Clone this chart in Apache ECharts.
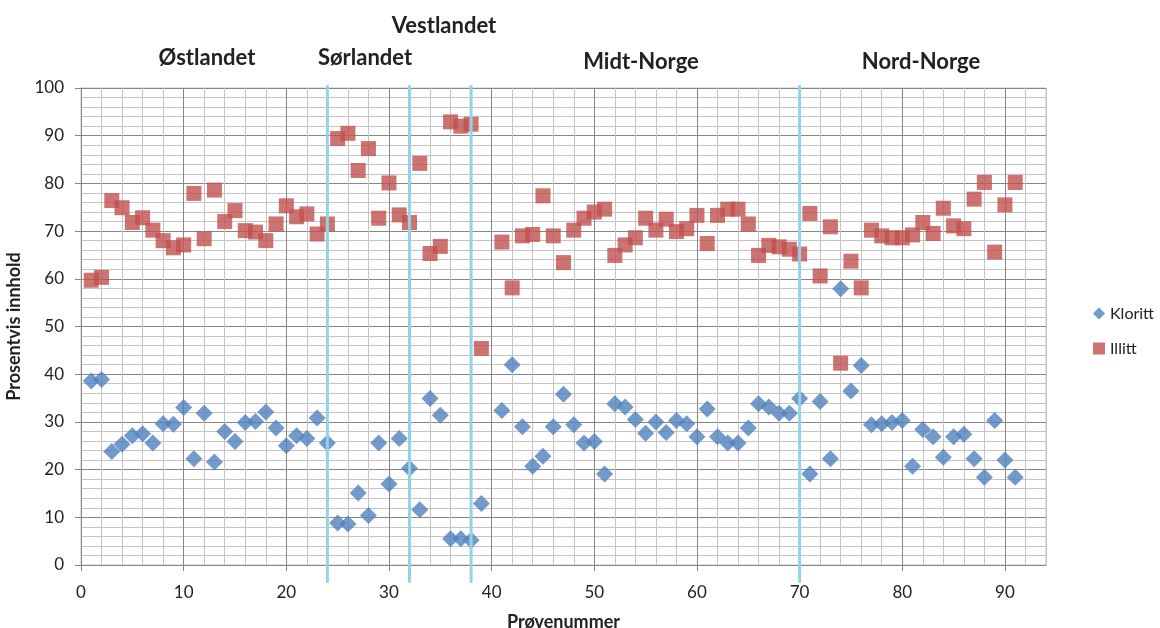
<!DOCTYPE html>
<html>
<head>
<meta charset="utf-8">
<script src="https://cdn.jsdelivr.net/npm/echarts@6/dist/echarts.min.js"></script>
<style>html,body{margin:0;padding:0;background:#fff;}#c{width:1160px;height:628px;}</style>
</head>
<body>
<div id="c"></div>
<script>
// Sample numbers (Prøvenummer) — sample 40 is missing
const samples = [1,2,3,4,5,6,7,8,9,10,11,12,13,14,15,16,17,18,19,20,21,22,23,24,25,26,27,28,29,30,31,32,33,34,35,36,37,38,39,
  41,42,43,44,45,46,47,48,49,50,51,52,53,54,55,56,57,58,59,60,61,62,63,64,65,66,67,68,69,70,71,72,73,74,75,76,77,78,79,80,81,82,83,84,85,86,87,88,89,90,91];
const kloritt = [38.6,38.9,23.8,25.3,27.1,27.5,25.6,29.6,29.5,33.0,22.3,31.8,21.6,28.0,25.9,29.9,30.1,32.1,28.7,25.0,27.1,26.5,30.8,25.6,8.8,8.6,15.1,10.4,25.6,17.0,26.5,20.3,11.6,34.9,31.4,5.5,5.5,5.2,12.9,
  32.4,42.0,29.0,20.7,22.8,29.0,35.8,29.4,25.6,25.9,19.1,33.8,33.1,30.5,27.6,30.0,27.8,30.3,29.6,26.9,32.7,26.9,25.6,25.6,28.7,33.8,33.1,31.8,31.8,34.9,19.1,34.3,22.3,57.9,36.5,41.8,29.4,29.6,29.9,30.3,20.7,28.4,26.9,22.6,26.9,27.4,22.3,18.4,30.3,22.0,18.4];
const illitt = [59.7,60.3,76.4,74.9,71.8,72.8,70.2,68.0,66.5,67.1,77.9,68.4,78.6,72.0,74.3,70.1,69.8,68.0,71.5,75.3,73.0,73.6,69.4,71.5,89.4,90.5,82.7,87.3,72.7,80.1,73.4,71.8,84.2,65.3,66.8,92.9,92.0,92.4,45.4,
  67.7,58.1,69.0,69.3,77.4,69.0,63.4,70.2,72.7,74.0,74.6,64.9,67.1,68.6,72.7,70.2,72.5,69.9,70.5,73.3,67.4,73.3,74.6,74.6,71.5,64.9,67.0,66.7,66.2,65.2,73.7,60.6,70.9,42.3,63.7,58.1,70.2,69.0,68.6,68.6,69.2,71.8,69.5,74.8,71.1,70.5,76.7,80.2,65.6,75.5,80.2];
// Region boundaries (x positions) and region names
const boundaries = [24, 32, 38, 70];
const regionNames = ['Østlandet', 'Sørlandet', 'Vestlandet', 'Midt-Norge', 'Nord-Norge'];
const xTickLabels = [0,10,20,30,40,50,60,70,80,90];
const yTickLabels = [0,10,20,30,40,50,60,70,80,90,100];

const FONT = 'Lato, "Noto Sans", sans-serif';
const TXT = '#222222';
const MAJOR = '#878787', MINOR = '#c4c4c4';

// label pixel positions (layout only)
const regionPos = [[207,58],[365,58],[444,26],[641,62],[921,62]];

const chart = echarts.init(document.getElementById('c'), null, {renderer:'canvas'});
const series = [
  {name:'Kloritt', type:'scatter', xAxisIndex:0, symbol:'diamond', symbolSize:17,
   itemStyle:{color:'#4F81BD'}, z:3, data: samples.map((s,i)=>[s, kloritt[i]])},
  {name:'Illitt', type:'scatter', xAxisIndex:0, symbol:'rect', symbolSize:15,
   itemStyle:{color:'#C0504D'}, z:4, data: samples.map((s,i)=>[s, illitt[i]])}
];
boundaries.forEach(b => series.push({
  type:'line', xAxisIndex:0, silent:true, clip:false, symbol:'none', z:6,
  lineStyle:{color:'#92D3E8', width:3}, data:[[b,-3.7],[b,100.6]]
}));

chart.setOption({
  animation:false,
  backgroundColor:'#ffffff',
  grid:{left:81, right:114, top:88, bottom:63, containLabel:false, outerBoundsMode:'none',
    show:true, borderColor:MINOR, borderWidth:1},
  legend:{orient:'vertical', left:1088, top:300, itemWidth:12, itemHeight:12, itemGap:18,
    textStyle:{fontFamily:FONT, fontSize:16, color:TXT, lineHeight:17},
    data:[{name:'Kloritt', icon:'diamond'},{name:'Illitt', icon:'rect'}]},
  xAxis:[
    {type:'value', min:0, max:94, interval:2,
     axisLine:{show:true, lineStyle:{color:MAJOR}}, axisTick:{show:false}, axisLabel:{show:false},
     splitLine:{show:true, lineStyle:{color:[MAJOR,MINOR,MINOR,MINOR,MINOR], width:1}}},
    {type:'value', min:0, max:94, interval:10, position:'bottom',
     name:'Prøvenummer', nameLocation:'middle', nameGap:48,
     nameTextStyle:{fontFamily:FONT, fontSize:18, fontWeight:'bold', color:TXT},
     axisLine:{show:false},
     axisTick:{show:true, length:6, lineStyle:{color:MAJOR}, customValues:xTickLabels},
     axisLabel:{show:true, margin:19, fontFamily:FONT, fontSize:17, color:TXT, customValues:xTickLabels,
       formatter:v => (v % 10 === 0 ? String(v) : '')},
     splitLine:{show:false}}
  ],
  yAxis:{type:'value', min:0, max:100, interval:10,
    name:'Prosentvis innhold', nameLocation:'middle', nameGap:49, nameRotate:90,
    nameTextStyle:{fontFamily:FONT, fontSize:18, fontWeight:'bold', color:TXT},
    axisLine:{show:true, lineStyle:{color:MAJOR}},
    axisTick:{show:true, length:6, lineStyle:{color:MAJOR}},
    axisLabel:{margin:17, fontFamily:FONT, fontSize:17, color:TXT},
    splitLine:{show:true, lineStyle:{color:MAJOR}},
    minorTick:{show:false, splitNumber:5},
    minorSplitLine:{show:true, lineStyle:{color:MINOR}}},
  graphic: regionNames.map((n,i)=>({type:'text', x:regionPos[i][0], y:regionPos[i][1], z:10,
    style:{text:n, fontFamily:FONT, fontSize:22, fontWeight:'bold', fill:TXT, align:'center', verticalAlign:'middle'}})),
  series: series
});
</script>
</body>
</html>
